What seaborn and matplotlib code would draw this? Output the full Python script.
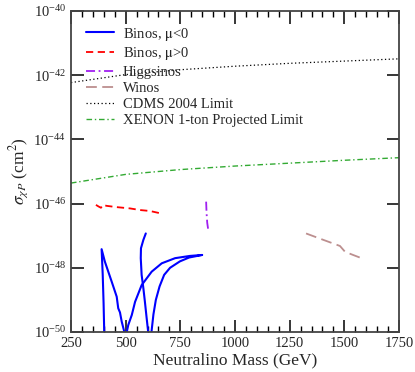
import numpy as np
import pandas as pd
import matplotlib
matplotlib.use("Agg")
import matplotlib.pyplot as plt
import seaborn as sns
from matplotlib.ticker import MultipleLocator, FixedLocator, NullLocator, LogFormatterSciNotation

# ---------------------------------------------------------
# data (mass in GeV, log10 of sigma in cm^2)
# ---------------------------------------------------------
cdms_mass = [250, 500, 750, 1000, 1250, 1500, 1750]
cdms_log = [-42.23, -41.98, -41.83, -41.72, -41.63, -41.56, -41.49]

xenon_mass = [250, 500, 750, 1000, 1250, 1500, 1750]
xenon_log = [-45.36, -45.09, -44.94, -44.83, -44.74, -44.65, -44.57]

# blue, mu<0 : three separate branches
bino_neg_a_mass = [402, 399, 395, 390, 405, 436, 459, 466, 474, 482, 494]
bino_neg_a_log = [-50.0, -49.1, -48.2, -47.42, -47.81, -48.43, -48.90, -49.26, -49.39, -49.68, -50.0]

bino_neg_b_mass = [505, 512, 528, 543, 573, 619, 665, 726, 794, 850,
                   790, 748, 703, 676, 655, 638, 627, 618]
bino_neg_b_log = [-50.0, -49.78, -49.47, -49.06, -48.54, -48.12, -47.86, -47.70, -47.63, -47.60,
                  -47.68, -47.80, -48.00, -48.22, -48.58, -49.0, -49.45, -50.0]

bino_neg_c_mass = [592, 581, 570, 569, 573, 581, 588, 596, 603]
bino_neg_c_log = [-46.93, -47.13, -47.39, -47.70, -48.22, -48.64, -49.06, -49.57, -50.0]

bino_pos_mass = [364, 376, 387, 396, 413, 459, 520, 565, 611, 657]
bino_pos_log = [-46.04, -46.09, -46.13, -46.04, -46.07, -46.11, -46.15, -46.20, -46.23, -46.30]

higgsino_mass = [868, 870, 873, 877]
higgsino_log = [-45.94, -46.30, -46.60, -46.79]

wino_mass = [1325, 1400, 1480, 1503, 1540, 1590]
wino_log = [-46.93, -47.12, -47.32, -47.50, -47.60, -47.73]

# ---------------------------------------------------------
# plot
# ---------------------------------------------------------
sns.set_style("ticks")
plt.rcParams['font.family'] = ['Liberation Serif', 'DejaVu Serif']
plt.rcParams['mathtext.fontset'] = 'stix'

fig = plt.figure(figsize=(4.15, 3.72), dpi=100)
ax = fig.add_axes([71 / 415, 40 / 372, 328 / 415, 321 / 372])


def curve(mass, logs, **kw):
    df = pd.DataFrame({'m': mass, 's': 10.0 ** np.array(logs)})
    sns.lineplot(data=df, x='m', y='s', sort=False, estimator=None, ax=ax, **kw)


curve(bino_neg_a_mass, bino_neg_a_log, color='#0000ff', lw=1.5, label=r'Binos, $\mathrm{\mu}$<0')
curve(bino_neg_b_mass, bino_neg_b_log, color='#0000ff', lw=1.5)
curve(bino_neg_c_mass, bino_neg_c_log, color='#0000ff', lw=1.5)
curve(bino_pos_mass, bino_pos_log, color='#ff0000', lw=1.3, dashes=(4, 2.5), label=r'Binos, $\mathrm{\mu}$>0')
curve(higgsino_mass, higgsino_log, color='#a020f0', lw=1.3, dashes=(5, 2, 1, 2), label='Higgsinos')
curve(wino_mass, wino_log, color='#bc8f8f', lw=1.3, dashes=(6, 3), label='Winos')
curve(cdms_mass, cdms_log, color='black', lw=0.9, dashes=(1, 2), label='CDMS 2004 Limit')
curve(xenon_mass, xenon_log, color='#33aa33', lw=1.0, dashes=(4, 2, 1, 2), label='XENON 1-ton Projected Limit')

ax.set_yscale('log')
ax.set_xlim(250, 1750)
ax.set_ylim(1e-50, 1e-40)
ax.xaxis.set_major_locator(MultipleLocator(250))
ax.xaxis.set_minor_locator(MultipleLocator(50))
ax.yaxis.set_major_locator(FixedLocator([10.0 ** e for e in range(-50, -39, 2)]))
ax.yaxis.set_major_formatter(LogFormatterSciNotation())
ax.yaxis.set_minor_locator(NullLocator())

ax.tick_params(which='both', direction='in', top=True, right=True, color='black')
ax.tick_params(which='major', length=9, width=1.1, labelsize=10.5)
ax.tick_params(which='minor', length=4.5, width=1.0)
for sp in ax.spines.values():
    sp.set_linewidth(1.3)
    sp.set_color('#444444')

ax.set_xlabel('Neutralino Mass (GeV)', fontsize=12.5, labelpad=2)
ax.set_ylabel(r'$\sigma_{\chi P}$ (cm$^2$)', fontsize=12.5, labelpad=2)

ax.legend(loc='upper left', frameon=False, fontsize=10.5, handlelength=1.95,
          handletextpad=0.6, labelspacing=0.2, borderaxespad=0.6)

fig.savefig('out.png', dpi=100)
